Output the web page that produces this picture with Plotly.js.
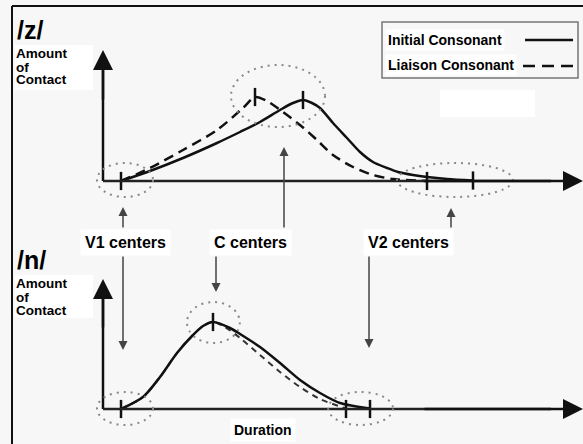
<!DOCTYPE html>
<html><head><meta charset="utf-8">
<script src="https://cdn.plot.ly/plotly-3.0.1.min.js"></script>
<style>html,body{margin:0;padding:0;background:#f7f7f7}</style>
</head><body><div id="chart" style="width:583px;height:444px"></div>
<script>
const W = 583, H = 444;
// ---- data (arbitrary duration units / amount-of-contact units) ----
const zSolidX = [4.5, 11.75, 20, 28.5, 34.25, 39.25, 44.25, 47.5, 50, 52.25, 54.25, 57.5, 61, 64.25, 67.5, 71, 73.75, 77.5, 81, 86, 92.5];
const zSolidY = [0, 10, 23, 38, 49, 59, 71, 78, 81, 78, 73, 58, 43, 29, 19, 13, 9, 6, 4, 2, 0.5];
const zDashX = [4.5, 11.75, 20, 28.5, 35, 38, 41, 45, 49.25, 53.5, 57.5, 62.5, 67.5, 72.5, 81];
const zDashY = [0, 13, 31, 51, 73, 84, 80, 69, 56, 41, 26, 14, 6, 2, 0];
const nSolidX = [4.5, 10, 14.25, 18.5, 22.5, 25, 27.5, 31.75, 34.25, 39.25, 44.25, 49.25, 54.25, 59.25, 66.75];
const nSolidY = [0, 12, 32, 56, 74, 83, 87, 81, 75, 62, 46, 29, 16, 6, 0.5];
const nDashX = [4.5, 10, 14.25, 18.5, 22.5, 25, 27.5, 30.5, 34.25, 39.25, 44.25, 49.25, 54.25, 60.75];
const nDashY = [0, 12, 32, 56, 74, 83, 87, 82, 71, 54, 37, 22, 10, 0.5];
const zTickX = [4.5, 38, 50, 81, 92.5];
const zTickY = [0, 84, 81, 0, 0.5];
const nTickX = [4.5, 27.5, 60.75, 66.75];
const nTickY = [0, 87, 0, 0];
const zEllCX = [5.5, 43.75, 88], zEllCY = [1, 85, 1], zEllRX = [7, 11.75, 14.5], zEllRY = [17, 31, 17];
const nEllCX = [5.5, 27.6, 64.4], nEllCY = [0.5, 86.5, 0.5], nEllRX = [7, 6.6, 8.1], nEllRY = [16.5, 20.5, 16.5];
const centerLabels = ['V1 centers', 'C centers', 'V2 centers'];
const zArrowX = [5, 45.25, 87], zArrowHeadY = [-26, 34, -27], zArrowTailY = -48;
const nArrowX = [5, 28.25, 66.5], nArrowHeadY = [59, 117, 61], nArrowTailY = 154;
const seriesNames = ['Initial Consonant', 'Liaison Consonant'];
const yLabelLines = ['Amount', 'of', 'Contact'];
const xLabel = 'Duration';
const panelNames = ['/z/', '/n/'];

const FONT = 'Liberation Sans, Arial, Helvetica, sans-serif';
const px = (x) => x / W;
const py = (y) => 1 - y / H;

const traces = [
  {x: zDashX, y: zDashY, yaxis: 'y', mode: 'lines', line: {color: '#111', width: 2.5, dash: '10px,6px', shape: 'spline', smoothing: 0.8}},
  {x: zSolidX, y: zSolidY, yaxis: 'y', mode: 'lines', line: {color: '#111', width: 2.5, shape: 'spline', smoothing: 0.8}},
  {x: nDashX, y: nDashY, yaxis: 'y2', mode: 'lines', line: {color: '#333', width: 2, dash: '6px,5px', shape: 'spline', smoothing: 0.8}},
  {x: nSolidX, y: nSolidY, yaxis: 'y2', mode: 'lines', line: {color: '#111', width: 2.5, shape: 'spline', smoothing: 0.8}},
  {x: zTickX, y: zTickY, yaxis: 'y', mode: 'markers', marker: {symbol: 'line-ns', size: 13, line: {width: 2.5, color: '#111'}}},
  {x: nTickX, y: nTickY, yaxis: 'y2', mode: 'markers', marker: {symbol: 'line-ns', size: 13, line: {width: 2.5, color: '#111'}}}
];

const shapes = [];
// frame
shapes.push({type: 'line', xref: 'paper', yref: 'paper', x0: px(12), x1: px(12), y0: py(6), y1: 0, line: {color: '#111', width: 2}});
shapes.push({type: 'line', xref: 'paper', yref: 'paper', x0: px(12), x1: 1, y0: py(6), y1: py(6), line: {color: '#111', width: 2}});
// white patches
shapes.push({type: 'rect', xref: 'paper', yref: 'paper', x0: px(15), x1: px(93), y0: py(45), y1: py(90), fillcolor: 'white', line: {width: 0}, layer: 'below'});
shapes.push({type: 'rect', xref: 'paper', yref: 'paper', x0: px(15), x1: px(93), y0: py(275), y1: py(318), fillcolor: 'white', line: {width: 0}, layer: 'below'});
shapes.push({type: 'rect', xref: 'paper', yref: 'paper', x0: px(440), x1: px(535), y0: py(90), y1: py(117), fillcolor: 'white', line: {width: 0}, layer: 'below'});
// legend box
shapes.push({type: 'rect', xref: 'paper', yref: 'paper', x0: px(382), x1: px(578), y0: py(22), y1: py(78), fillcolor: 'rgba(0,0,0,0)', line: {color: '#777', width: 1.5}});
shapes.push({type: 'line', xref: 'paper', yref: 'paper', x0: px(525), x1: px(573), y0: py(40), y1: py(40), line: {color: '#111', width: 2.5}});
shapes.push({type: 'line', xref: 'paper', yref: 'paper', x0: px(523), x1: px(575), y0: py(66), y1: py(66), line: {color: '#111', width: 2.5, dash: '12px,7px'}});
// axes lines
shapes.push({type: 'line', xref: 'x', yref: 'y', x0: 0, x1: 0, y0: 0, y1: 120, line: {color: '#111', width: 2.5}});
shapes.push({type: 'line', xref: 'x', yref: 'y', x0: 0, x1: 112, y0: 0, y1: 0, line: {color: '#222', width: 2.5}});
shapes.push({type: 'line', xref: 'x', yref: 'y2', x0: 0, x1: 0, y0: 0, y1: 120, line: {color: '#111', width: 2.5}});
shapes.push({type: 'line', xref: 'x', yref: 'y2', x0: 0, x1: 112, y0: 0, y1: 0, line: {color: '#222', width: 2.5}});
// dotted ellipses
zEllCX.forEach((cx, i) => shapes.push({type: 'circle', xref: 'x', yref: 'y', x0: cx - zEllRX[i], x1: cx + zEllRX[i], y0: zEllCY[i] - zEllRY[i], y1: zEllCY[i] + zEllRY[i], line: {color: '#888', width: 2, dash: '2px,5px'}}));
nEllCX.forEach((cx, i) => shapes.push({type: 'circle', xref: 'x', yref: 'y2', x0: cx - nEllRX[i], x1: cx + nEllRX[i], y0: nEllCY[i] - nEllRY[i], y1: nEllCY[i] + nEllRY[i], line: {color: '#888', width: 2, dash: '2px,5px'}}));

const ann = [];
const txt = (t, x, y, size, anchor, extra) => Object.assign({text: t, xref: 'paper', yref: 'paper', x: px(x), y: py(y), xanchor: anchor || 'left', yanchor: 'middle', showarrow: false, font: {family: FONT, size: size, color: '#000', weight: 'bold'}}, extra || {});
ann.push(txt('<b>' + panelNames[0] + '</b>', 15, 30, 25));
ann.push(txt('<b>' + panelNames[1] + '</b>', 15, 260, 25));
[53, 67, 80].forEach((y, i) => ann.push(txt('<b>' + yLabelLines[i] + '</b>', 15, y, 13.5, 'left', {borderpad: 0})));
[283, 297, 310].forEach((y, i) => ann.push(txt('<b>' + yLabelLines[i] + '</b>', 15, y, 13.5, 'left', {borderpad: 0})));
ann.push(txt('<b>' + xLabel + '</b>', 263, 430, 14, 'center', {bgcolor: 'white', borderpad: 3}));
ann.push(txt('<b>' + seriesNames[0] + '</b>', 385, 40, 14, 'left', {bgcolor: 'white', borderpad: 2}));
ann.push(txt('<b>' + seriesNames[1] + '</b>', 385, 65, 14, 'left', {bgcolor: 'white', borderpad: 2}));
[125, 250, 408].forEach((x, i) => ann.push(txt('<b>' + centerLabels[i] + '</b>', x, 242, 16, 'center', {bgcolor: 'white', borderpad: 4})));
// axis arrowheads
const head = (xref, yref, x, y, ax, ay) => ({text: '', xref: xref, yref: yref, axref: xref, ayref: yref, x: x, y: y, ax: ax, ay: ay, showarrow: true, arrowhead: 2, arrowsize: 1.6, arrowwidth: 2.5, arrowcolor: '#111'});
ann.push(head('x', 'y', 0, 131, 0, 80));
ann.push(head('x', 'y', 120, 0, 80, 0));
ann.push(head('x', 'y2', 0, 130, 0, 80));
ann.push(head('x', 'y2', 120, 0, 80, 0));
// center arrows
const arr = (yref, x, y, ay) => ({text: '', xref: 'x', yref: yref, axref: 'x', ayref: yref, x: x, y: y, ax: x, ay: ay, showarrow: true, arrowhead: 2, arrowsize: 1.2, arrowwidth: 1.5, arrowcolor: '#444'});
zArrowX.forEach((x, i) => ann.push(arr('y', x, zArrowHeadY[i], zArrowTailY)));
nArrowX.forEach((x, i) => ann.push(arr('y2', x, nArrowHeadY[i], nArrowTailY)));

const layout = {
  width: W, height: H,
  margin: {l: 0, r: 0, t: 0, b: 0},
  paper_bgcolor: '#f7f7f7', plot_bgcolor: 'rgba(0,0,0,0)',
  showlegend: false,
  xaxis: {range: [-25.75, 120], visible: false, fixedrange: true},
  yaxis: {range: [-263, 181], visible: false, fixedrange: true},
  yaxis2: {range: [-35, 409], visible: false, overlaying: 'y', fixedrange: true},
  shapes: shapes,
  annotations: ann,
  font: {family: FONT}
};
Plotly.newPlot('chart', traces, layout, {displayModeBar: false, staticPlot: true});
</script></body></html>
